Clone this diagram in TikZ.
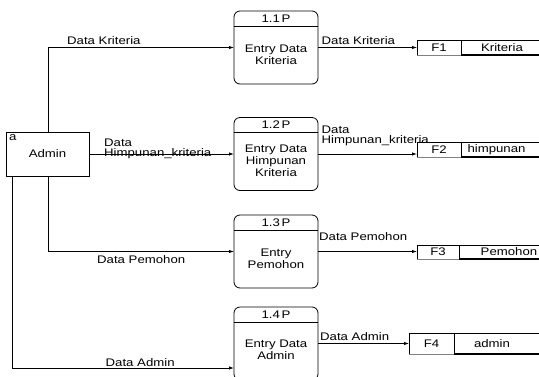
\documentclass[tikz,border=0pt]{standalone}
\usepackage{fontspec}
\setmainfont{Liberation Sans}[FakeStretch=1.2]
\usetikzlibrary{arrows.meta}

\tikzset{
  lbl/.style={inner sep=0pt, font=\fontsize{11}{12}\selectfont},
  proc/.style={draw, line width=0.8pt, rounded corners=6pt, minimum width=84pt,
    minimum height=73pt, inner sep=0pt, outer sep=0pt},
  ent/.style={draw, line width=0.8pt, minimum width=83pt, minimum height=44pt,
    inner sep=0pt, outer sep=0pt},
  cell/.style={inner sep=0pt, outer sep=0pt},
  flow/.style={line width=0.8pt, -{Latex[length=5pt,width=3.4pt]}},
}

\begin{document}
\begin{tikzpicture}[x=1pt, y=-1pt]
  \useasboundingbox (0,0) rectangle (539,376);
  \fill[white] (0,0) rectangle (539,376);
  \clip (0,0) rectangle (539,376);

  % external entity
  \node[ent] (admin) at (47.5,154) {};
  \node[lbl, anchor=base west] (admina) at (9,140) {a};
  \node[lbl, anchor=base] (adminl) at (47.5,157) {Admin};

  % processes
  \foreach \i/\y in {1/47.5, 2/154, 3/251.5, 4/343.5} {
    \node[proc] (p\i) at (276,\y) {};
    \draw[line width=0.8pt] ([yshift=-15pt]p\i.north west) -- ([yshift=-15pt]p\i.north east);
    \node[lbl] (p\i h) at ([yshift=-7.5pt]p\i.north) {1.\i\,P};
  }
  \node[lbl, align=center] (p1t) at (276,55) {Entry Data\\Kriteria};
  \node[lbl, align=center] (p2t) at (276,161) {Entry Data\\Himpunan\\Kriteria};
  \node[lbl, align=center] (p3t) at (276,258.5) {Entry\\Pemohon};
  \node[lbl, align=center] (p4t) at (276,349.5) {Entry Data\\Admin};

  % data stores: id cell plus an open name strip
  \foreach \i/\xl/\xd/\yt/\yb in {1/417/461/40/55, 2/417/461/142/157, 3/417/459/245/259, 4/409/454/333/354} {
    \node[cell, minimum width={\xd-\xl}, minimum height={\yb-\yt}]
      (f\i) at ({(\xl+\xd)/2},{(\yt+\yb)/2}) {};
    \draw[line width=0.7pt] (f\i.south west) -- (f\i.north west) -- (f\i.north east) -- (f\i.south east);
    \draw[line width=0.7pt, gray] (f\i.south west) -- (f\i.south east);
    \draw[line width=0.7pt] (f\i.north east) -- (548,\yt);
    \draw[line width=1.3pt] (f\i.south east) -- (548,\yb);
    \node[lbl] (f\i l) at (f\i) {F\i};
  }
  \node[lbl] (f1n) at (502,47.5) {Kriteria};
  \node[lbl] (f2n) at (496.5,149.5) {himpunan};
  \node[lbl] (f3n) at (509,252) {Pemohon};
  \node[lbl] (f4n) at (492,343.5) {admin};

  % routing columns below and above the entity
  \coordinate (colA) at (48,0);
  \coordinate (colB) at (12,0);
  \coordinate (p4in) at (234,368);

  % flows from the entity
  \draw[flow] (admin.north -| colA) |- (p1.west);
  \draw[flow] (admin.east) -- (admin.east -| p2.west);
  \draw[flow] (admin.south -| colA) |- (p3.west);
  \draw[flow] (admin.south -| colB) |- (p4in);

  % flows into the stores
  \draw[flow] (p1.east) -- (p1.east -| f1.west);
  \draw[flow] (p2.east) -- (p2.east -| f2.west);
  \draw[flow] (p3.east) -- (p3.east -| f3.west);
  \draw[flow] (p4.east) -- (p4.east -| f4.west);

  % flow labels
  \node[lbl, anchor=base west] (l1) at (67,44.5) {Data Kriteria};
  \node[lbl, anchor=base west] (l2a) at (104,146) {Data};
  \node[lbl, anchor=base west] (l2b) at (104,156.5) {Himpunan\_kriteria};
  \node[lbl, anchor=base west] (l3) at (97,263) {Data Pemohon};
  \node[lbl, anchor=base west] (l4) at (105.5,366) {Data Admin};
  \node[lbl, anchor=base west] (r1) at (321.5,44.5) {Data Kriteria};
  \node[lbl, anchor=base west] (r2a) at (321.5,133) {Data};
  \node[lbl, anchor=base west] (r2b) at (321.5,143.5) {Himpunan\_kriteria};
  \node[lbl, anchor=base west] (r3) at (319,240) {Data Pemohon};
  \node[lbl, anchor=base west] (r4) at (320,340) {Data Admin};
\end{tikzpicture}
\end{document}
